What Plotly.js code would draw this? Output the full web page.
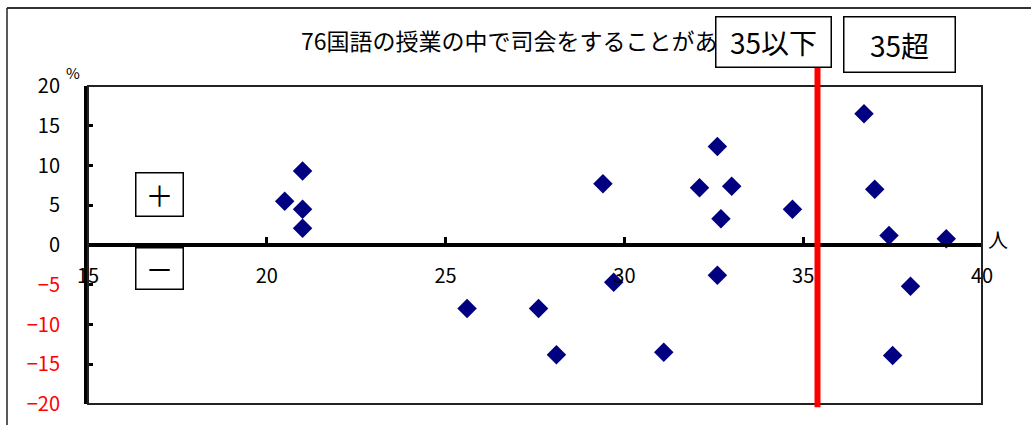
<!DOCTYPE html>
<html>
<head>
<meta charset="utf-8">
<script src="https://cdn.plot.ly/plotly-3.0.1.min.js"></script>
<style>
  body { margin: 0; background: #fff; }
  #chart { width: 1031px; height: 425px; }
</style>
</head>
<body>
<div id="chart"></div>
<script>
  // 人数 (x) と 差 % (y)
  const classSize = [20.5, 21.0, 21.0, 21.0, 25.6, 27.6, 28.1, 29.4, 29.7, 31.1,
                     32.1, 32.6, 32.6, 32.7, 33.0, 34.7, 36.7, 37.0, 37.4, 37.5, 38.0, 39.0];
  const diffPct   = [5.5, 9.3, 4.5, 2.1, -8.0, -8.0, -13.8, 7.7, -4.7, -13.5,
                     7.2, 12.4, -3.8, 3.3, 7.4, 4.5, 16.5, 7.0, 1.2, -13.9, -5.2, 0.8];

  const yTickVals = [20, 15, 10, 5, 0, -5, -10, -15, -20];
  const yTickText = yTickVals.map(v => v < 0
    ? '<span style="color:#ff0000">\u2212' + Math.abs(v) + '</span>'
    : String(v));

  const threshold = 35.4;
  const titleText = '76国語の授業の中で司会をすることがある';
  const boxLow = '35以下';
  const boxHigh = '35超';

  const jp = 'Noto Sans CJK JP, sans-serif';

  var data = [{
    x: classSize,
    y: diffPct,
    mode: 'markers',
    type: 'scatter',
    marker: { symbol: 'diamond', size: 15, color: '#000080' },
    hoverinfo: 'x+y'
  }];

  // helper for boxed / free labels placed in paper coords
  function label(text, x, y, size, box) {
    var a = {
      text: text, xref: 'paper', yref: 'paper', x: x, y: y,
      xanchor: 'center', yanchor: 'middle', showarrow: false,
      font: { family: jp, size: size, color: '#000' }
    };
    if (box) {
      a.width = box[0]; a.height = box[1];
      a.bgcolor = '#fff'; a.bordercolor = '#000';
      a.borderwidth = 1.5; a.borderpad = 1;
    }
    return a;
  }

  var layout = {
    width: 1031,
    height: 425,
    margin: { l: 88, r: 49, t: 86, b: 21 },
    paper_bgcolor: '#fff',
    plot_bgcolor: '#fff',
    showlegend: false,
    font: { family: jp, size: 20, color: '#000' },
    title: {
      text: titleText,
      font: { family: jp, size: 23, color: '#000' },
      xref: 'container', x: 0.292, xanchor: 'left',
      yref: 'container', y: 0.901, yanchor: 'middle'
    },
    xaxis: {
      range: [15, 40],
      dtick: 5,
      anchor: 'free',
      position: 0.5,
      showline: true, linewidth: 4, linecolor: '#000',
      ticks: 'inside', ticklen: 6, tickwidth: 3, tickcolor: '#000',
      ticklabelstandoff: 12,
      showgrid: false, zeroline: false,
      tickfont: { family: jp, size: 20, color: '#000' }
    },
    yaxis: {
      range: [-20, 20],
      tickvals: yTickVals,
      ticktext: yTickText,
      showline: true, linewidth: 4, linecolor: '#000',
      ticks: 'inside', ticklen: 5, tickwidth: 3, tickcolor: '#000',
      ticklabelstandoff: 20,
      showgrid: false, zeroline: false,
      tickfont: { family: jp, size: 20, color: '#000' }
    },
    shapes: [
      // plot frame
      { type: 'rect', xref: 'paper', yref: 'paper', x0: 0, x1: 1, y0: 0, y1: 1,
        line: { color: '#222', width: 2 } },
      // outer chart border (top + left)
      { type: 'line', xref: 'paper', yref: 'paper', x0: -0.0906, x1: 1.06, y0: 1.245, y1: 1.245,
        line: { color: '#333', width: 2 } },
      { type: 'line', xref: 'paper', yref: 'paper', x0: -0.0906, x1: -0.0906, y0: 1.245, y1: -0.08,
        line: { color: '#222', width: 1.5 } },
      // 35 threshold
      { type: 'line', xref: 'x', yref: 'paper', x0: threshold, x1: threshold, y0: -0.01, y1: 1.06,
        line: { color: '#ff0000', width: 6 } }
    ],
    annotations: [
      label(boxLow, 0.767, 1.138, 28, [112, 47]),
      label(boxHigh, 0.908, 1.1305, 28, [108, 52]),
      label('＋', 0.080, 0.659, 28, [44, 40]),
      label('－', 0.0805, 0.426, 28, [44, 38]),
      label('%', -0.0168, 1.041, 15),
      label('人', 1.018, 0.516, 20)
    ]
  };

  Plotly.newPlot('chart', data, layout, { displayModeBar: false, staticPlot: true });
</script>
</body>
</html>
